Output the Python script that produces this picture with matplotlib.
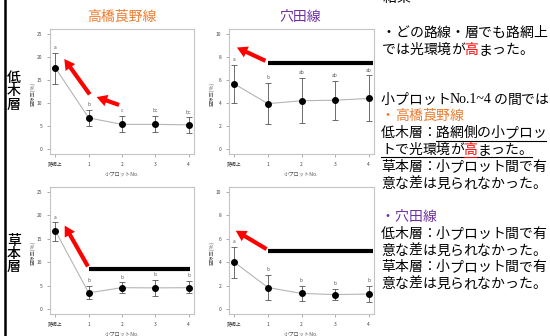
import matplotlib
matplotlib.use('Agg')
import matplotlib.pyplot as plt
from matplotlib.patches import FancyArrowPatch
from matplotlib.lines import Line2D

plt.rcParams['font.family'] = ['Noto Sans CJK JP', 'DejaVu Sans']

# ---------------- data ----------------
plot_labels = ['路網上', '1', '2', '3', '4']

taka_shrub_mean = [17.6, 6.8, 5.4, 5.4, 5.3]
taka_shrub_upper = [20.9, 8.6, 7.2, 7.2, 6.9]
taka_shrub_lower = [14.2, 5.0, 3.8, 3.8, 3.5]
taka_shrub_letters = ['a', 'b', 'c', 'bc', 'bc']

anada_shrub_mean = [5.65, 3.95, 4.2, 4.25, 4.4]
anada_shrub_upper = [7.3, 5.75, 6.15, 5.95, 6.4]
anada_shrub_lower = [4.0, 2.2, 2.25, 2.5, 2.45]
anada_shrub_letters = ['a', 'b', 'ab', 'ab', 'ab']

taka_herb_mean = [16.7, 3.5, 4.6, 4.55, 4.6]
taka_herb_upper = [18.5, 5.0, 5.7, 6.2, 6.0]
taka_herb_lower = [14.6, 2.1, 3.5, 2.9, 3.4]
taka_herb_letters = ['a', 'b', 'b', 'b', 'b']

anada_herb_mean = [4.0, 1.85, 1.35, 1.25, 1.3]
anada_herb_upper = [5.3, 2.9, 2.0, 1.75, 2.0]
anada_herb_lower = [2.7, 0.8, 0.7, 0.75, 0.65]
anada_herb_letters = ['a', 'b', 'b', 'b', 'b']

yticks_taka = [0, 5, 10, 15, 20, 25]
yticks_anada = [0, 2, 4, 6, 8, 10]

# annotation marks (red arrows: tail -> head, black bars: x0, x1, y)
arrows_p1 = [((1.08, 11.4), (0.22, 20.0)), ((1.99, 9.4), (1.16, 11.5))]
arrows_p2 = [((1.0, 7.55), (0.0, 8.9))]
arrows_p3 = [((1.02, 8.6), (0.24, 18.3))]
arrows_p4 = [((1.03, 5.0), (-0.03, 6.8))]
bar_p2 = (1.0, 4.12, 7.5)
bar_p3 = (1.0, 4.05, 8.5)
bar_p4 = (1.0, 4.12, 5.0)

W, H = 550, 336
fig = plt.figure(figsize=(W / 100, H / 100), dpi=100)
fig.patch.set_facecolor('white')


def px_rect(l, t, r, b):
    return [l / W, 1 - b / H, (r - l) / W, (b - t) / H]


def draw_panel(rect, means, upper, lower, letters, yticks, ylim, arrows, bar=None):
    ax = fig.add_axes(rect)
    x = list(range(len(plot_labels)))
    yerr = [[m - l for m, l in zip(means, lower)], [u - m for m, u in zip(means, upper)]]
    ax.plot(x, means, color='#b5b5b5', lw=0.8, zorder=2)
    ax.errorbar(x, means, yerr=yerr, fmt='none', ecolor='#555555', elinewidth=0.6,
                capsize=2.3, capthick=0.6, zorder=3)
    ax.plot(x, means, 'o', color='black', ms=4.0, zorder=4)
    for xi, u, s in zip(x, upper, letters):
        ax.annotate(s, (xi, u), xytext=(0, 2.0), textcoords='offset points',
                    ha='center', va='bottom', fontsize=3.5, color='#555555')
    ax.set_xlim(-0.16, 4.16)
    ax.set_ylim(*ylim)
    ax.set_xticks(x)
    ax.set_xticklabels(plot_labels)
    ax.set_yticks(yticks)
    for s in ax.spines.values():
        s.set_color('#c4c4c4')
        s.set_linewidth(0.8)
    ax.tick_params(length=2, width=0.5, color='#888888', pad=3.5, labelsize=3.5,
                   labelcolor='#444444')
    ax.annotate('小プロットNo.', (0.5, 0), xycoords='axes fraction', xytext=(0, -14.5),
                textcoords='offset points', ha='center', va='center', fontsize=3.8,
                color='#555555', annotation_clip=False)
    ax.annotate('空隙率(%)', (0, 0.5), xycoords='axes fraction', xytext=(-12.5, -2),
                textcoords='offset points', ha='center', va='center', fontsize=3.8,
                color='#555555', rotation=90, annotation_clip=False)
    if bar is not None:
        ax.plot([bar[0], bar[1]], [bar[2], bar[2]], color='black', lw=3,
                solid_capstyle='butt', clip_on=False, zorder=5)
    for tail, head in arrows:
        ar = FancyArrowPatch(tail, head,
                             arrowstyle='simple,head_length=0.75,head_width=0.85,tail_width=0.3',
                             mutation_scale=10, color='#ff0000', lw=0, clip_on=False, zorder=6)
        ax.add_patch(ar)
    return ax


draw_panel(px_rect(50, 29, 194, 154), taka_shrub_mean, taka_shrub_upper, taka_shrub_lower,
           taka_shrub_letters, yticks_taka, (-1, 26), arrows_p1)
draw_panel(px_rect(229, 29, 374, 154), anada_shrub_mean, anada_shrub_upper, anada_shrub_lower,
           anada_shrub_letters, yticks_anada, (-0.4, 10.4), arrows_p2, bar_p2)
draw_panel(px_rect(50, 187, 194, 314), taka_herb_mean, taka_herb_upper, taka_herb_lower,
           taka_herb_letters, yticks_taka, (-1, 26), arrows_p3, bar_p3)
draw_panel(px_rect(229, 187, 374, 314), anada_herb_mean, anada_herb_upper, anada_herb_lower,
           anada_herb_letters, yticks_anada, (-0.4, 10.4), arrows_p4, bar_p4)

ORANGE = '#ED7D31'
PURPLE = '#7030A0'
RED = '#ff0000'

# titles
fig.text(122 / W, 1 - 17 / H, '高橋莨野線', color=ORANGE, fontsize=10, ha='center', va='center')
fig.text(300 / W, 1 - 17 / H, '穴田線', color=PURPLE, fontsize=10, ha='center', va='center')

# row labels
fig.text(14 / W, 1 - 91.5 / H, '低\n木\n層', fontsize=10, ha='center', va='center',
         linespacing=0.95, fontweight='medium')
fig.text(14 / W, 1 - 254 / H, '草\n本\n層', fontsize=10, ha='center', va='center',
         linespacing=0.95, fontweight='medium')

# left vertical rule
fig.add_artist(Line2D([4.5 / W, 4.5 / W], [0, 1], color='black', lw=1.8))

# right-hand text
renderer = fig.canvas.get_renderer()
SANS = ['Noto Sans CJK JP', 'DejaVu Sans']
SERIF = ['Liberation Serif', 'Noto Sans CJK JP']
FS = 10
STEP = 13.75  # full-width character pitch in pixels


def seg_line(x_px, y_px, segments):
    x = x_px
    for txt, color, fam, ul in segments:
        x_start = x
        if fam is SERIF:
            t = fig.text(x / W, 1 - y_px / H, txt, color=color, fontsize=FS, va='center',
                         ha='left', family=fam)
            x += t.get_window_extent(renderer).width + 2.0
        else:
            for ch in txt:
                fig.text((x + STEP / 2) / W, 1 - y_px / H, ch, color=color, fontsize=FS,
                         va='center', ha='center', family=fam)
                x += STEP
        if ul:
            fig.add_artist(Line2D([x_start / W, x / W], [1 - (y_px + 7.5) / H] * 2,
                                  color=color, lw=0.8))


K = 'black'
X0 = 381
seg_line(X0 + 2, -2, [('結果', K, SANS, False)])
seg_line(X0 + 1, 32.7, [('・どの路線・層でも路網上', K, SANS, False)])
seg_line(X0 + 1, 49.7, [('では光環境が', K, SANS, False), ('高', RED, SANS, False),
                        ('まった。', K, SANS, False)])
seg_line(X0, 99.5, [('小プロット', K, SANS, False), ('No.1~4', K, SERIF, False),
                    ('の間では', K, SANS, False)])
seg_line(X0, 116.2, [('・高橋莨野線', ORANGE, SANS, False)])
seg_line(X0, 133, [('低木層：', K, SANS, False), ('路網側の小プロッ', K, SANS, True)])
seg_line(X0, 149.7, [('トで光環境が', K, SANS, True), ('高', RED, SANS, True),
                     ('まった。', K, SANS, True)])
seg_line(X0, 167, [('草本層：小プロット間で有', K, SANS, False)])
seg_line(X0, 184, [('意な差は見られなかった。', K, SANS, False)])
seg_line(X0, 216.7, [('・穴田線', PURPLE, SANS, False)])
seg_line(X0, 234, [('低木層：小プロット間で有', K, SANS, False)])
seg_line(X0, 250.7, [('意な差は見られなかった。', K, SANS, False)])
seg_line(X0, 267.3, [('草本層：小プロット間で有', K, SANS, False)])
seg_line(X0, 284, [('意な差は見られなかった。', K, SANS, False)])

fig.savefig('out.png', dpi=100, facecolor='white')
